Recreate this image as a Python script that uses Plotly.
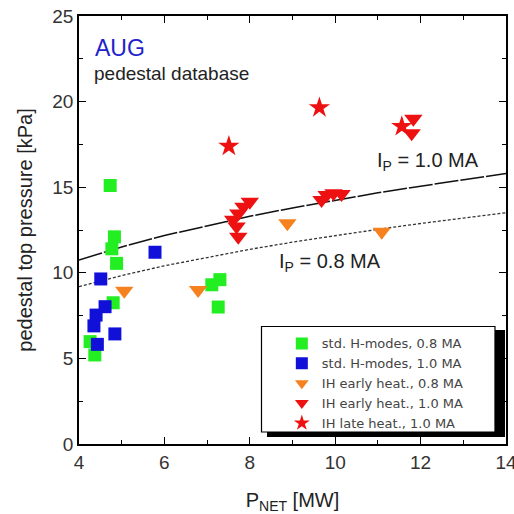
import plotly.graph_objects as go

# ---- data ----
std08_x = [4.73, 4.83, 4.77, 4.88, 4.80, 4.26, 4.37, 7.11, 7.30, 7.26]
std08_y = [15.1, 12.1, 11.4, 10.55, 8.25, 5.98, 5.2, 9.3, 9.6, 8.0]

std10_x = [5.78, 4.51, 4.61, 4.40, 4.35, 4.84, 4.43]
std10_y = [11.2, 9.64, 8.02, 7.53, 6.9, 6.43, 5.82]

ih_early08_x = [5.06, 6.79, 8.88, 11.09]
ih_early08_y = [8.95, 9.0, 12.9, 12.4]

ih_early10_x = [8.0, 7.85, 7.73, 7.61, 7.69, 7.73, 9.68, 9.80, 9.96, 10.15, 11.83, 11.79]
ih_early10_y = [14.15, 13.86, 13.47, 13.1, 12.7, 12.1, 14.25, 14.54, 14.64, 14.6, 19.0, 18.15]

ih_late10_x = [7.51, 9.63, 11.56]
ih_late10_y = [17.4, 19.65, 18.55]

fit_x = [4, 5, 6, 7, 8, 9, 10, 11, 12, 13, 14]
fit10_y = [10.75, 11.51, 12.18, 12.76, 13.30, 13.79, 14.24, 14.67, 15.06, 15.44, 15.80]
fit08_y = [9.19, 9.84, 10.41, 10.91, 11.37, 11.79, 12.18, 12.54, 12.88, 13.20, 13.51]

FONT = "Liberation Sans, Arial, sans-serif"
LEGFONT = "DejaVu Sans, sans-serif"

fig = go.Figure()

fig.add_trace(go.Scatter(x=fit_x, y=fit10_y, mode="lines", showlegend=False,
                         line=dict(color="#111111", width=1.5, dash="24px,2px"), hoverinfo="skip"))
fig.add_trace(go.Scatter(x=fit_x, y=fit08_y, mode="lines", showlegend=False,
                         line=dict(color="#333333", width=1.3, dash="3px,2px"), hoverinfo="skip"))

fig.add_trace(go.Scatter(x=std08_x, y=std08_y, mode="markers", name="std. H-modes, 0.8 MA",
                         marker=dict(symbol="square", size=13, color="#22ee22")))
fig.add_trace(go.Scatter(x=std10_x, y=std10_y, mode="markers", name="std. H-modes, 1.0 MA",
                         marker=dict(symbol="square", size=13, color="#1010d8")))
fig.add_trace(go.Scatter(x=ih_early08_x, y=ih_early08_y, mode="markers", name="IH early heat., 0.8 MA",
                         marker=dict(symbol="triangle-down", size=16, color="#f5821f")))
fig.add_trace(go.Scatter(x=ih_early10_x, y=ih_early10_y, mode="markers", name="IH early heat., 1.0 MA",
                         marker=dict(symbol="triangle-down", size=16, color="#ee1111")))
fig.add_trace(go.Scatter(x=ih_late10_x, y=ih_late10_y, mode="markers", name="IH late heat., 1.0 MA",
                         marker=dict(symbol="star", size=16, color="#ee1111")))

axis_common = dict(showline=True, linecolor="black", linewidth=1.5, mirror="ticks",
                   ticks="inside", ticklen=7, tickwidth=1.2, tickcolor="black",
                   showgrid=False, zeroline=False, automargin=False,
                   ticklabeloverflow="allow",
                   tickfont=dict(family=FONT, size=19, color="#333333"))

fig.update_xaxes(range=[4, 14], dtick=2, tick0=4,
                 minor=dict(dtick=1, ticks="inside", ticklen=4, tickcolor="black"),
                 title=dict(text="P<sub>NET</sub> [MW]", font=dict(family=FONT, size=20, color="#222222"),
                            standoff=21),
                 **axis_common)
fig.update_yaxes(range=[0, 25], dtick=5, tick0=0,
                 minor=dict(dtick=2.5, ticks="inside", ticklen=4, tickcolor="black"),
                 title=dict(text="pedestal top pressure [kPa]", font=dict(family=FONT, size=20, color="#222222"),
                            standoff=14),
                 **axis_common)

# annotations
fig.add_annotation(x=0.032, y=0.926, xref="paper", yref="paper", text="AUG", showarrow=False,
                   xanchor="left", yanchor="middle", font=dict(family=FONT, size=23, color="#2222cc"))
fig.add_annotation(x=0.030, y=0.8645, xref="paper", yref="paper", text="pedestal database", showarrow=False,
                   xanchor="left", yanchor="middle", font=dict(family=FONT, size=19, color="#222222"))
fig.add_annotation(x=0.693, y=0.659, xref="paper", yref="paper", text="I<sub>P</sub> = 1.0 MA", showarrow=False,
                   xanchor="left", yanchor="middle", font=dict(family=FONT, size=20, color="#222222"))
fig.add_annotation(x=0.4637, y=0.4229, xref="paper", yref="paper", text="I<sub>P</sub> = 0.8 MA", showarrow=False,
                   xanchor="left", yanchor="middle", font=dict(family=FONT, size=20, color="#222222"))

# legend shadow and box
fig.add_shape(type="rect", xref="paper", yref="paper", x0=0.4403, x1=0.9977, y0=0.0164, y1=0.2664,
              fillcolor="black", line=dict(width=0), layer="above")
fig.add_shape(type="rect", xref="paper", yref="paper", x0=0.4274, x1=0.9742, y0=0.028, y1=0.2745,
              fillcolor="white", line=dict(color="black", width=1.2), layer="above")

fig.update_layout(
    width=514, height=514,
    margin=dict(l=79, r=8, t=16, b=70),
    paper_bgcolor="white", plot_bgcolor="white",
    font=dict(family=FONT),
    legend=dict(x=0.475, y=0.2700, xanchor="left", yanchor="top",
                bgcolor="rgba(0,0,0,0)", borderwidth=0,
                font=dict(family=LEGFONT, size=13, color="#444444"),
                itemsizing="constant", tracegroupgap=0),
)

fig.write_html("out.html")
